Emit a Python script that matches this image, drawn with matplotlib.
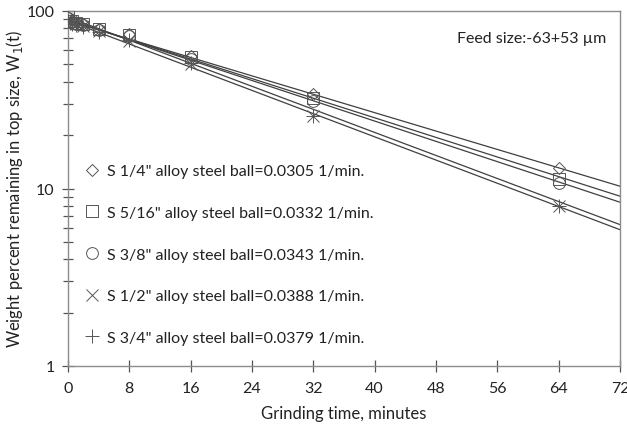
import matplotlib
matplotlib.use("Agg")
import matplotlib.pyplot as plt
from matplotlib.ticker import FixedLocator, LogLocator, NullFormatter

plt.rcParams["font.family"] = ["Lato", "DejaVu Sans"]

# grinding times (min) and measured weight percent in top size
times = [0, 0.5, 1, 2, 4, 8, 16, 32, 64]
w_quarter = [93, 89, 87, 85, 79, 74, 56, 34, 13.1]
w_five16 = [95, 88, 86, 84, 79, 73, 55, 32.5, 11.3]
w_three8 = [91, 87, 85, 83, 78, 72, 54, 31.1, 10.8]
w_half = [90, 86, 84, 82, 77, 68, 50, 25.6, 7.94]
w_three4 = [88, 85, 83, 81, 76, 69, 51, 25.6, 7.94]

# fitted first-order lines, read at t = 0 and t = 72
fit_t = [0, 72]
fit_quarter = [88.2, 10.3]
fit_five16 = [89.2, 9.05]
fit_three8 = [89.4, 8.37]
fit_half = [92.3, 6.26]
fit_three4 = [88.1, 5.86]

labels = [
    'S 1/4" alloy steel ball=0.0305 1/min.',
    'S 5/16" alloy steel ball=0.0332 1/min.',
    'S 3/8" alloy steel ball=0.0343 1/min.',
    'S 1/2" alloy steel ball=0.0388 1/min.',
    'S 3/4" alloy steel ball=0.0379 1/min.',
]
markers = ["D", "s", "o", "x", "+"]
sizes = [6, 8.5, 8.5, 9, 10]

series = [w_quarter, w_five16, w_three8, w_half, w_three4]
fits = [fit_quarter, fit_five16, fit_three8, fit_half, fit_three4]

mark_col = "#555555"
line_col = "#404040"
axis_col = "#8c8c8c"

fig = plt.figure(figsize=(6.27, 4.27), dpi=100)
ax = fig.add_axes([68 / 627, 1 - 367 / 427, 552 / 627, 355 / 427])

for f in fits:
    ax.plot(fit_t, f, color=line_col, lw=0.9, zorder=2)

for vals, m, s, lab in zip(series, markers, sizes, labels):
    ax.plot(times, vals, linestyle="none", marker=m, markersize=s,
            markerfacecolor="none", markeredgecolor=mark_col,
            markeredgewidth=0.7, label=lab, zorder=3)

ax.set_yscale("log")
ax.set_xlim(0, 72)
ax.set_ylim(1, 100)
ax.xaxis.set_major_locator(FixedLocator(list(range(0, 73, 8))))
ax.yaxis.set_major_locator(FixedLocator([1, 10, 100]))
ax.yaxis.set_minor_locator(LogLocator(base=10, subs=range(2, 10)))
ax.yaxis.set_minor_formatter(NullFormatter())
ax.set_yticklabels(["1", "10", "100"])

for sp in ax.spines.values():
    sp.set_color(axis_col)
    sp.set_linewidth(1.0)

ax.tick_params(axis="both", which="major", direction="inout", length=9,
               width=0.9, color="#555555", labelsize=11.5, labelcolor="#222222")
ax.tick_params(axis="y", which="minor", direction="inout", length=7,
               width=0.9, color="#555555")
ax.tick_params(axis="x", pad=6)
ax.tick_params(axis="y", pad=5)

ax.set_xlabel("Grinding time, minutes", fontsize=12, color="#222222")
ax.set_ylabel("Weight percent remaining in top size, W$_1$(t)", fontsize=12,
              color="#222222")
ax.xaxis.set_label_coords(0.5, -0.11)
ax.yaxis.set_label_coords(-0.078, 0.5)

ax.text(0.975, 0.925, "Feed size:-63+53 \u00b5m", transform=ax.transAxes,
        ha="right", va="center", fontsize=11.5, color="#222222")

ax.legend(loc="upper left", bbox_to_anchor=(0.005, 0.6), frameon=False,
          fontsize=11.5, labelspacing=1.72, handletextpad=0.35,
          handlelength=1.2, borderaxespad=0.3, labelcolor="#222222")

fig.savefig("out.png", dpi=100)
